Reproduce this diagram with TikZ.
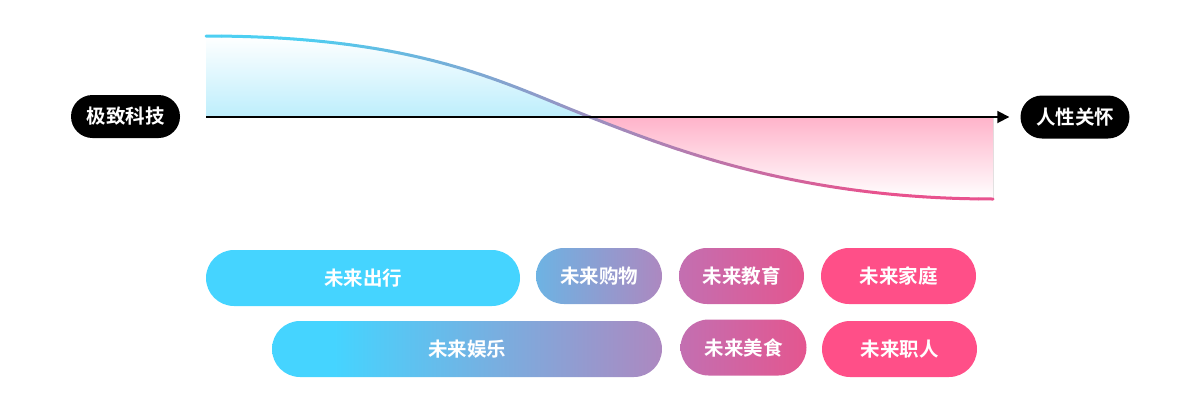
\documentclass[tikz,border=0pt]{standalone}
\usepackage{fontspec}
\newfontfamily\cjk{Noto Sans CJK SC}[BoldFont={Noto Sans CJK SC Bold}]
\usetikzlibrary{arrows.meta}
\definecolor{cyanL}{HTML}{4DCFF2}
\definecolor{pinkR}{HTML}{E8528E}
\definecolor{fillblue}{HTML}{BDEEFC}
\definecolor{fillpink}{HTML}{FFB3CA}
\definecolor{pillcyan}{HTML}{45D4FF}
\definecolor{pillpink}{HTML}{FF4F88}
\definecolor{lav}{HTML}{AD88C0}
\definecolor{blu2}{HTML}{6DB3E3}
\definecolor{mag1}{HTML}{C36FB1}
\definecolor{mag2}{HTML}{E4568F}
\pgfdeclarehorizontalshading{yule}{100bp}{color(0bp)=(pillcyan); color(25bp)=(pillcyan); color(33bp)=(pillcyan); color(75bp)=(lav); color(100bp)=(lav)}
\tikzset{
  pill/.style={rounded corners=28pt, minimum height=56pt, inner sep=0pt, text=white,
    font=\cjk\bfseries\fontsize{19.5pt}{19.5pt}\selectfont},
  tag/.style={fill=black, rounded corners=21.5pt, minimum height=43pt, minimum width=109pt,
    inner sep=0pt, text=white, font=\cjk\bfseries\fontsize{19.5pt}{19.5pt}\selectfont},
  curveseg/.style={line width=3pt, line cap=round},
  axisline/.style={line width=1.8pt, black, -{Triangle[length=12pt,width=12pt]}, shorten >=11pt},
}
% cubic Bezier coordinate: #1 = t, #2..#5 = control values
\newcommand\bzv[5]{((1-#1)*(1-#1)*(1-#1)*#2+3*(1-#1)*(1-#1)*#1*#3+3*(1-#1)*#1*#1*#4+#1*#1*#1*#5)}
\begin{document}
\begin{tikzpicture}[x=1pt,y=-1pt]
\useasboundingbox (0,0) rectangle (1200,400);
% fills
\fill[top color=white, bottom color=fillblue] (206,117) -- (206,36) .. controls (420,36) and (505,84) .. (590,117) -- cycle;
\fill[top color=fillpink, bottom color=white] (590,117) .. controls (675,150) and (800,199) .. (993,199) -- (993,117) -- cycle;
% curve with gradient, drawn in short segments
\foreach \i in {0,...,39}{
  \pgfmathsetmacro\ta{\i/40}
  \pgfmathsetmacro\tb{(\i+1)/40}
  \pgfmathsetmacro\tc{(\i+0.5)/40}
  \pgfmathsetmacro\xa{\bzv{\ta}{206}{420}{505}{590}}
  \pgfmathsetmacro\ya{\bzv{\ta}{36}{36}{84}{117}}
  \pgfmathsetmacro\xc{\bzv{\tc}{206}{420}{505}{590}}
  \pgfmathsetmacro\yc{\bzv{\tc}{36}{36}{84}{117}}
  \pgfmathsetmacro\xb{\bzv{\tb}{206}{420}{505}{590}}
  \pgfmathsetmacro\yb{\bzv{\tb}{36}{36}{84}{117}}
  \pgfmathsetmacro\pc{min(100,max(0,(\xc-300)/5.8))}
  \draw[curveseg, color=pinkR!\pc!cyanL] (\xa,\ya) -- (\xc,\yc) -- (\xb,\yb);
}
\foreach \i in {0,...,39}{
  \pgfmathsetmacro\ta{\i/40}
  \pgfmathsetmacro\tb{(\i+1)/40}
  \pgfmathsetmacro\tc{(\i+0.5)/40}
  \pgfmathsetmacro\xa{\bzv{\ta}{590}{675}{800}{993}}
  \pgfmathsetmacro\ya{\bzv{\ta}{117}{150}{199}{199}}
  \pgfmathsetmacro\xc{\bzv{\tc}{590}{675}{800}{993}}
  \pgfmathsetmacro\yc{\bzv{\tc}{117}{150}{199}{199}}
  \pgfmathsetmacro\xb{\bzv{\tb}{590}{675}{800}{993}}
  \pgfmathsetmacro\yb{\bzv{\tb}{117}{150}{199}{199}}
  \pgfmathsetmacro\pc{min(100,max(0,(\xc-300)/5.8))}
  \draw[curveseg, color=pinkR!\pc!cyanL] (\xa,\ya) -- (\xc,\yc) -- (\xb,\yb);
}
% end labels
\node[tag] (L) at (125.5,116.5) {极致科技};
\node[tag] (R) at (1075,117) {人性关怀};
\coordinate (ax0) at (206,117);
\draw[axisline] (ax0) -- (R.west);
% pills
\node[pill, fill=pillcyan, minimum width=314pt] (p1) at (363,278) {未来出行};
\node[pill, left color=blu2, right color=lav, minimum width=126pt] (p2) at (599,276) {未来购物};
\node[pill, left color=mag1, right color=mag2, minimum width=125pt] (p3) at (741.5,276) {未来教育};
\node[pill, fill=pillpink, minimum width=155pt] (p4) at (898.5,276) {未来家庭};
\node[pill, shading=yule, minimum width=390pt] (p5) at (467,349) {未来娱乐};
\node[pill, left color=mag1, right color=mag2, minimum width=126pt] (p6) at (743.5,347.5) {未来美食};
\node[pill, fill=pillpink, minimum width=155pt] (p7) at (899.5,349) {未来职人};
\end{tikzpicture}
\end{document}
